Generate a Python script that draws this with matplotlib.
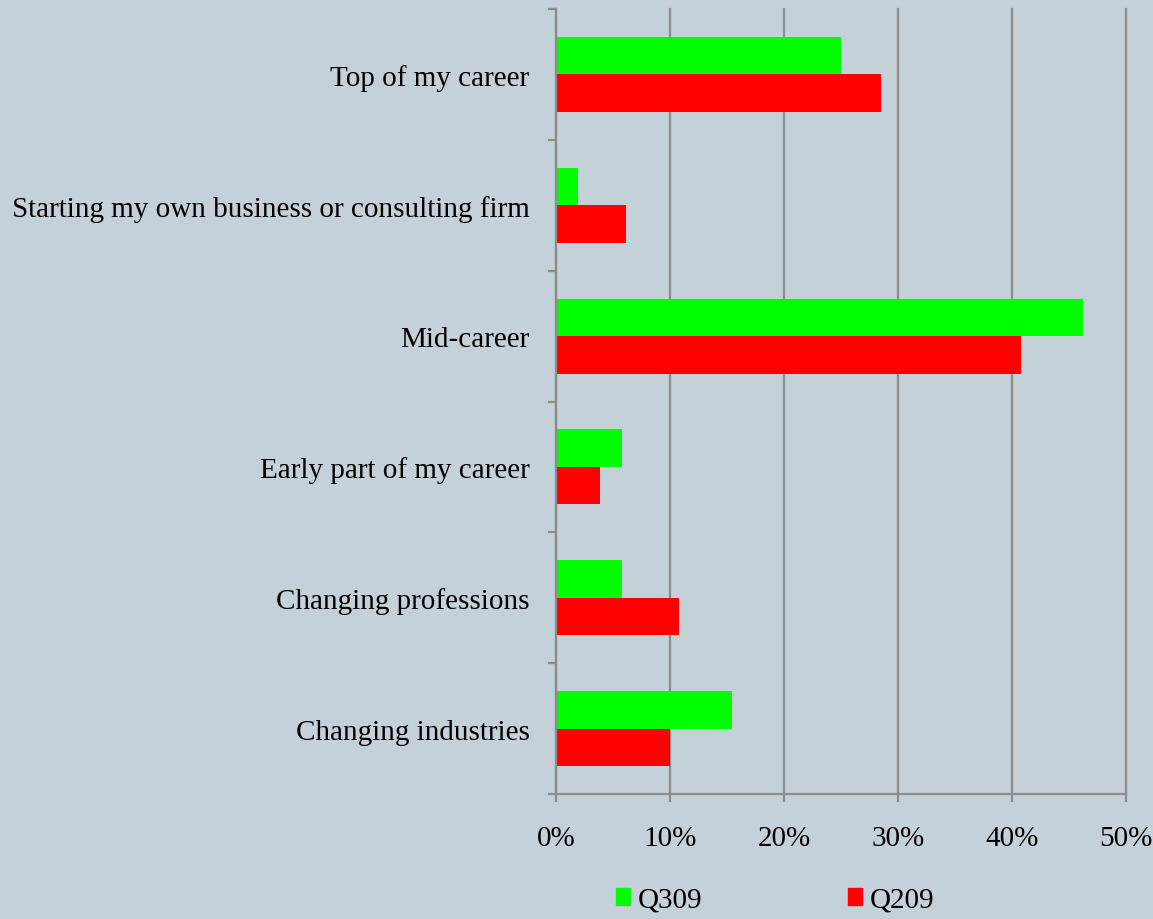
import matplotlib.pyplot as plt
from matplotlib.patches import Patch
from matplotlib.ticker import FuncFormatter
import numpy as np

# categories listed top to bottom as in the chart
categories = ["Top of my career",
              "Starting my own business or consulting firm",
              "Mid-career",
              "Early part of my career",
              "Changing professions",
              "Changing industries"]
q309 = [25.0, 1.9, 46.2, 5.75, 5.75, 15.4]
q209 = [28.5, 6.1, 40.8, 3.9, 10.8, 10.0]

bg = "#c5d1d8"
grey = "#8c8c8c"
plt.rcParams['font.family'] = ['Liberation Serif', 'DejaVu Serif']

fig = plt.figure(figsize=(11.53, 9.2), dpi=100, facecolor=bg)
ax = fig.add_axes([556/1153, 1-795/920, 570/1153, 785/920], facecolor=bg)

n = len(categories)
pos = np.arange(n)[::-1]
h = 0.286
ax.barh(pos + h/2, q309, height=h, color="#00ff00", label="Q309", zorder=3)
ax.barh(pos - h/2, q209, height=h, color="#ff0000", label="Q209", zorder=3)

ax.set_xlim(0, 50)
ax.set_ylim(-0.5, n - 0.5)
ax.set_xticks(np.arange(0, 51, 10))
ax.xaxis.set_major_formatter(FuncFormatter(lambda v, p: f"{v:.0f}%"))
ax.set_yticks(pos)
ax.set_yticklabels(categories)
ax.set_yticks(np.arange(-0.5, n, 1), minor=True)

ax.grid(axis="x", color=grey, linewidth=1.6, zorder=0)
for gl in ax.get_xgridlines():
    gl.set_clip_on(False)
for s in ["top", "right"]:
    ax.spines[s].set_visible(False)
for s in ["left", "bottom"]:
    ax.spines[s].set_color(grey)
    ax.spines[s].set_linewidth(1.6)
    ax.spines[s].set_zorder(4)

ax.tick_params(axis="y", which="major", length=0, pad=19, labelsize=21)
ax.tick_params(axis="y", which="minor", length=6, width=1.6, color=grey, direction="out")
ax.tick_params(axis="x", length=6, width=1.6, color=grey, direction="out", pad=16, labelsize=21)

handles = [Patch(color="#00ff00"), Patch(color="#ff0000")]
fig.legend(handles, ["Q309", "Q209"], loc="center", bbox_to_anchor=(775/1153, 1-901/920),
           ncol=2, frameon=False, fontsize=21, handlelength=0.5, handleheight=0.5,
           handletextpad=0.25, columnspacing=5.0, borderaxespad=0)

fig.savefig("out.png", dpi=100, facecolor=bg)
